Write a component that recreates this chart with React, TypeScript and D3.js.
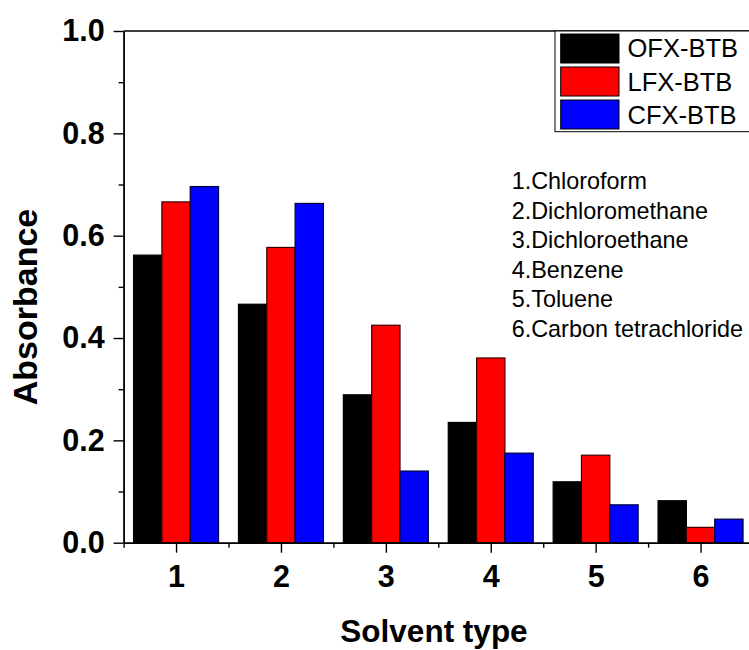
import React, { useEffect, useRef } from "react";
import * as d3 from "d3";

const categories = [1, 2, 3, 4, 5, 6];
const seriesNames = ["OFX-BTB", "LFX-BTB", "CFX-BTB"];
const ofx = [0.562, 0.466, 0.289, 0.235, 0.119, 0.082];
const lfx = [0.666, 0.577, 0.425, 0.361, 0.171, 0.030];
const cfx = [0.696, 0.663, 0.140, 0.175, 0.074, 0.046];
const yTicks = [0, 0.2, 0.4, 0.6, 0.8, 1.0];
const yMinorTicks = [0.1, 0.3, 0.5, 0.7, 0.9];
const xMinorTicks = [0.5, 1.5, 2.5, 3.5, 4.5, 5.5, 6.5];
const solvents = [
  "1.Chloroform",
  "2.Dichloromethane",
  "3.Dichloroethane",
  "4.Benzene",
  "5.Toluene",
  "6.Carbon tetrachloride",
];
const colors = ["#000000", "#ff0000", "#0000ff"];
const strokes = ["#000000", "#3a0000", "#00003a"];

const W = 749;
const H = 650;
const FONT = "'Liberation Sans', Arial, Helvetica, sans-serif";

export default function App() {
  const ref = useRef<SVGSVGElement>(null);

  useEffect(() => {
    const svg = d3.select(ref.current);
    svg.selectAll("*").remove();

    const x = d3.scaleLinear().domain([0.5, 6.5]).range([123.6, 753]);
    const y = d3.scaleLinear().domain([0, 1]).range([542.7, 31]);
    const bw = 0.27;
    const series = [ofx, lfx, cfx];

    // bars
    const gb = svg.append("g");
    series.forEach((vals, si) => {
      gb.selectAll(`rect.s${si}`)
        .data(categories.map((c, i) => ({ c, v: vals[i] })))
        .join("rect")
        .attr("x", (d) => x(d.c - 1.5 * bw + si * bw))
        .attr("width", x(bw) - x(0))
        .attr("y", (d) => y(d.v))
        .attr("height", (d) => y(0) - y(d.v))
        .attr("fill", colors[si])
        .attr("stroke", strokes[si])
        .attr("stroke-width", 1.2);
    });

    // top frame line
    svg
      .append("line")
      .attr("x1", x(0.5))
      .attr("x2", W + 5)
      .attr("y1", y(1))
      .attr("y2", y(1))
      .attr("stroke", "#000")
      .attr("stroke-width", 1.4);

    // y axis
    const gy = svg.append("g").attr("transform", `translate(${x(0.5)},0)`);
    gy.call(
      d3
        .axisLeft(y)
        .tickValues(yTicks)
        .tickSize(10)
        .tickSizeOuter(0)
        .tickPadding(9)
        .tickFormat(d3.format(".1f"))
    );
    gy.append("g").call(
      d3
        .axisLeft(y)
        .tickValues(yMinorTicks)
        .tickSize(5)
        .tickSizeOuter(0)
        .tickFormat(() => "")
    );

    // x axis
    const gx = svg.append("g").attr("transform", `translate(0,${y(0)})`);
    gx.call(
      d3
        .axisBottom(x)
        .tickValues(categories)
        .tickSize(10)
        .tickSizeOuter(0)
        .tickPadding(12.7)
        .tickFormat(d3.format("d"))
    );
    gx.append("g").call(
      d3
        .axisBottom(x)
        .tickValues(xMinorTicks)
        .tickSize(5)
        .tickSizeOuter(0)
        .tickFormat(() => "")
    );

    svg
      .selectAll(".domain, .tick line")
      .attr("stroke", "#000")
      .attr("stroke-width", 1.4);
    svg
      .selectAll(".tick text")
      .attr("font-family", FONT)
      .attr("font-size", 30.5)
      .attr("font-weight", "bold")
      .attr("fill", "#000");

    // axis titles
    svg
      .append("text")
      .attr("x", 434)
      .attr("y", 641.7)
      .attr("text-anchor", "middle")
      .attr("font-family", FONT)
      .attr("font-size", 31.5)
      .attr("font-weight", "bold")
      .text("Solvent type");
    svg
      .append("text")
      .attr("transform", "translate(37,307) rotate(-90)")
      .attr("text-anchor", "middle")
      .attr("font-family", FONT)
      .attr("font-size", 34)
      .attr("font-weight", "bold")
      .text("Absorbance");

    // legend
    const lg = svg.append("g");
    lg.append("rect")
      .attr("x", 555)
      .attr("y", 31)
      .attr("width", 210)
      .attr("height", 100.7)
      .attr("fill", "#fff")
      .attr("stroke", "#000")
      .attr("stroke-width", 1);
    seriesNames.forEach((name, i) => {
      lg.append("rect")
        .attr("x", 560.7)
        .attr("y", 34 + i * 33)
        .attr("width", 58.3)
        .attr("height", 29)
        .attr("fill", colors[i])
        .attr("stroke", "#000")
        .attr("stroke-width", 1);
      lg.append("text")
        .attr("x", 627.5)
        .attr("y", 57 + i * 33.5)
        .attr("font-family", FONT)
        .attr("font-size", 25.5)
        .text(name);
    });

    // solvent annotation
    const ann = svg.append("g");
    solvents.forEach((s, i) => {
      ann
        .append("text")
        .attr("x", 511.7)
        .attr("y", 189.3 + i * 29.5)
        .attr("font-family", FONT)
        .attr("font-size", 23.4)
        .text(s);
    });
  }, []);

  return (
    <svg
      ref={ref}
      width={W}
      height={H}
      style={{ position: "absolute", left: 0, top: 0, background: "#fff" }}
    />
  );
}
